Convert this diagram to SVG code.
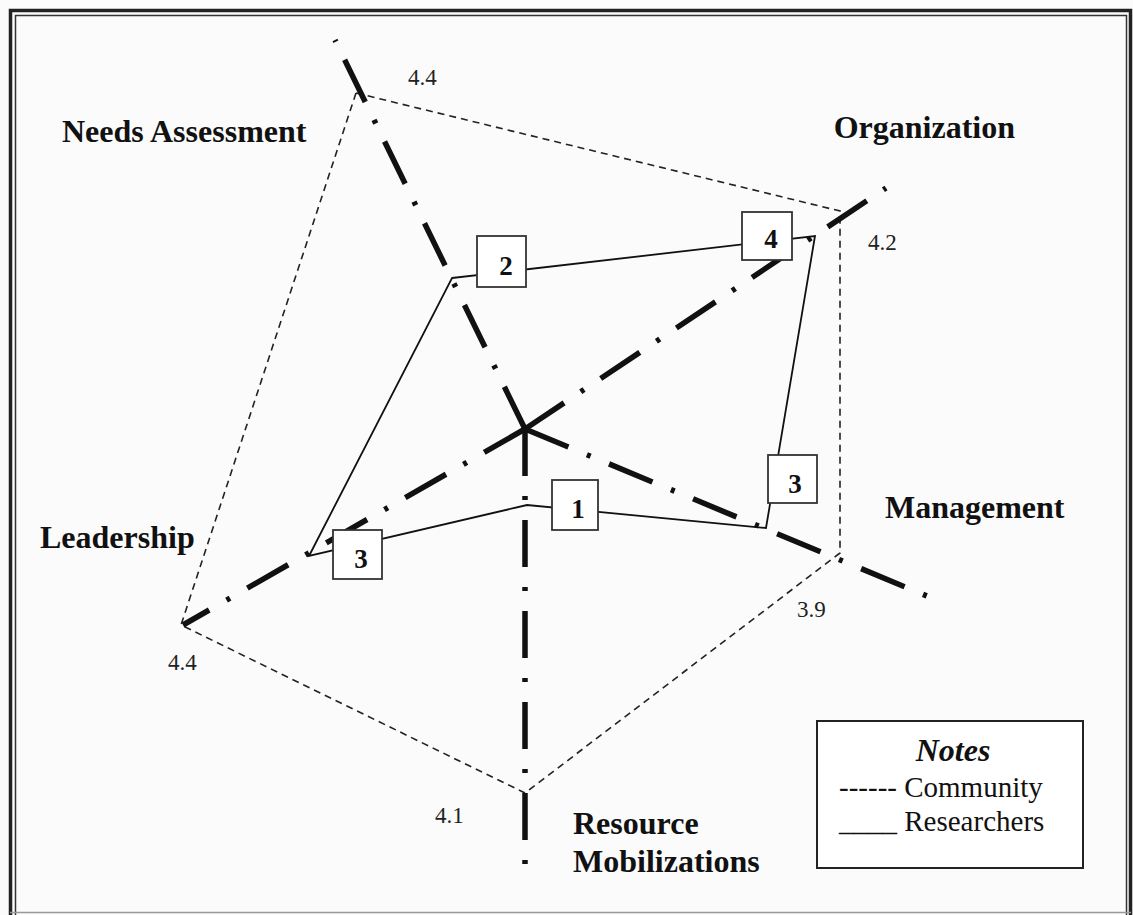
<svg xmlns="http://www.w3.org/2000/svg" width="1133" height="915" viewBox="0 0 1133 915">
<style>
.axis{stroke:#111;stroke-width:5.5;stroke-dasharray:47 20 4 20;fill:none;stroke-linecap:butt}
.comm{stroke:#222;stroke-width:1.6;stroke-dasharray:7 5;fill:none}
.res{stroke:#111;stroke-width:1.8;fill:none;stroke-linejoin:miter}
.box{fill:#fff;stroke:#333;stroke-width:1.8}
.num{font-family:"Liberation Serif",serif;font-weight:bold;font-size:27px;fill:#111;text-anchor:middle}
.lab{font-family:"Liberation Serif",serif;font-weight:bold;font-size:32px;fill:#111}
.val{font-family:"Liberation Serif",serif;font-size:23px;fill:#222}
.leg{font-family:"Liberation Serif",serif;font-size:29px;fill:#111}
.notes{font-family:"Liberation Serif",serif;font-size:32px;font-weight:bold;font-style:italic;fill:#111;text-anchor:middle}
</style>
<rect x="0" y="0" width="1133" height="915" fill="#fbfbfb"/>
<g id="frame" fill="none">
<path d="M10.5,915 V10.5 H1130.5 V915" stroke="#222" stroke-width="3.5"/>
<path d="M15.5,915 V15.5 H1126.5 V915" stroke="#333" stroke-width="1.5"/>
<path d="M10,912.5 H1131" stroke="#999" stroke-width="1.5"/>
</g>
<g id="connectors">
<polygon class="comm" points="356,93 840,211 840,553 525,793 181,625"/>
<line class="axis" x1="525" y1="429" x2="335" y2="40"/>
<line class="axis" x1="525" y1="429" x2="886" y2="188"/>
<line class="axis" x1="525" y1="429" x2="927" y2="596"/>
<line class="axis" x1="525" y1="429" x2="525" y2="864"/>
<line class="axis" x1="525" y1="429" x2="183" y2="625"/>
<polygon class="res" points="452,278 815,236 766,528 527,505 309,556"/>
</g>
<g id="box-2"><rect class="box" x="477" y="236" width="49" height="51"/><text class="num" x="506" y="275">2</text></g>
<g id="box-4"><rect class="box" x="742" y="212" width="50" height="48"/><text class="num" x="771" y="248">4</text></g>
<g id="box-3r"><rect class="box" x="768" y="455" width="49" height="48"/><text class="num" x="795" y="493">3</text></g>
<g id="box-1"><rect class="box" x="552" y="480" width="46" height="50"/><text class="num" x="578" y="518">1</text></g>
<g id="box-3l"><rect class="box" x="333" y="530" width="49" height="49"/><text class="num" x="361" y="568">3</text></g>
<g id="label-needs"><text class="lab" x="62" y="142">Needs Assessment</text><text class="val" x="408" y="85">4.4</text></g>
<g id="label-org"><text class="lab" x="1015" y="138" text-anchor="end">Organization</text><text class="val" x="868" y="250">4.2</text></g>
<g id="label-mgmt"><text class="lab" x="885" y="518">Management</text><text class="val" x="797" y="617">3.9</text></g>
<g id="label-lead"><text class="lab" x="40" y="548">Leadership</text><text class="val" x="168" y="670">4.4</text></g>
<g id="label-res"><text class="lab" x="573" y="834">Resource</text><text class="lab" x="573" y="872">Mobilizations</text><text class="val" x="435" y="823">4.1</text></g>
<g id="legend">
<rect x="817" y="721" width="266" height="147" fill="#fff" stroke="#222" stroke-width="2"/>
<text class="notes" x="953" y="761">Notes</text>
<text class="leg" x="839" y="797">------ Community</text>
<text class="leg" x="839" y="831">____ Researchers</text>
</g>
</svg>
